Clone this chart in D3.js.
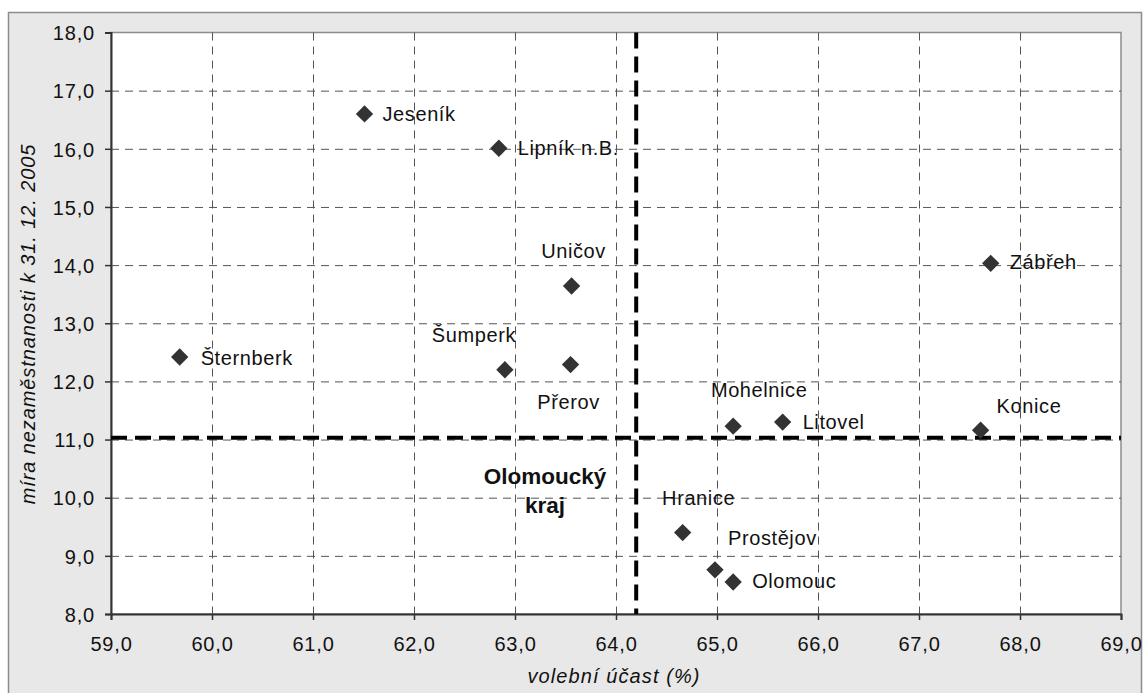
<!DOCTYPE html>
<html><head><meta charset="utf-8">
<script src="https://cdn.jsdelivr.net/npm/d3@7"></script>
<style>body{margin:0;background:#fff}svg{display:block}text{font-family:"Liberation Sans",Arial,sans-serif}</style>
</head><body>
<svg id="c" width="1143" height="693"></svg>
<script>
const districts = ["Jeseník","Lipník n.B.","Uničov","Šumperk","Přerov","Šternberk","Zábřeh","Konice","Mohelnice","Litovel","Hranice","Prostějov","Olomouc"];
const turnout = [61.51,62.84,63.56,62.90,63.55,59.68,67.71,67.61,65.16,65.65,64.66,64.98,65.16];
const unemployment = [16.60,16.01,13.64,12.20,12.29,12.42,14.03,11.16,11.23,11.30,9.40,8.76,8.55];
const regionTurnout = 64.2;
const regionUnemployment = 11.03;
const xTicks = [59,60,61,62,63,64,65,66,67,68,69];
const yTicks = [8,9,10,11,12,13,14,15,16,17,18];
const regionLabel = ["Olomoucký","kraj"];
// label placement (offsets in px relative to point): dx, dy, anchor
const labelPos = {
 "Jeseník":[18,7,"start"],"Lipník n.B.":[19,7,"start"],"Uničov":[2,-28,"middle"],
 "Šumperk":[-31,-28,"middle"],"Přerov":[-2,44,"middle"],"Šternberk":[21,8,"start"],
 "Zábřeh":[19,6,"start"],"Konice":[16,-17,"start"],"Mohelnice":[26,-29,"middle"],
 "Litovel":[20,7,"start"],"Hranice":[16,-28,"middle"],"Prostějov":[13,-25,"start"],
 "Olomouc":[19,6,"start"]};

const svg = d3.select("#c");
svg.append("rect").attr("x",8.5).attr("y",12.5).attr("width",1133).attr("height",700)
  .attr("fill","#e8e8e8").attr("stroke","#8c8c8c").attr("stroke-width",1.5);
const L=111,R=1121,T=32.5,B=614;
const x=d3.scaleLinear().domain([59,69]).range([L,R]);
const y=d3.scaleLinear().domain([8,18]).range([B,T]);
svg.append("rect").attr("x",L).attr("y",T).attr("width",R-L).attr("height",B-T)
  .attr("fill","#fff").attr("stroke","#8c8c8c").attr("stroke-width",1.5);

// grid
const g=svg.append("g");
g.selectAll(".gx").data(xTicks.slice(1,-1)).join("line")
  .attr("x1",d=>x(d)+0.5).attr("x2",d=>x(d)+0.5).attr("y1",T).attr("y2",B)
  .attr("stroke","#555").attr("stroke-width",1).attr("stroke-dasharray","8,6");
g.selectAll(".gy").data(yTicks.slice(1,-1)).join("line")
  .attr("x1",L).attr("x2",R).attr("y1",d=>y(d)+0.5).attr("y2",d=>y(d)+0.5)
  .attr("stroke","#555").attr("stroke-width",1).attr("stroke-dasharray","8,6");

// axes
const fmt=d=>d3.format(".1f")(d).replace(".",",");
const xa=svg.append("g").attr("transform",`translate(0,${B})`)
  .call(d3.axisBottom(x).tickValues(xTicks).tickFormat(fmt).tickSize(6).tickPadding(17));
const ya=svg.append("g").attr("transform",`translate(${L},0)`)
  .call(d3.axisLeft(y).tickValues(yTicks).tickFormat(fmt).tickSize(6).tickPadding(10));
[xa,ya].forEach(a=>{a.select(".domain").attr("stroke","#333").attr("stroke-width",2);
  a.selectAll(".tick line").attr("stroke","#333").attr("stroke-width",1.5);
  a.selectAll("text").attr("font-size",20).attr("letter-spacing",0.8).attr("fill","#111")
   .attr("font-family","Liberation Sans, Arial, sans-serif");});
ya.selectAll("text").attr("dy","0.36em");

// reference lines
svg.append("line").attr("x1",x(regionTurnout)).attr("x2",x(regionTurnout)).attr("y1",T).attr("y2",B)
  .attr("stroke","#000").attr("stroke-width",4).attr("stroke-dasharray","16,8");
svg.append("line").attr("x1",L).attr("x2",R).attr("y1",y(regionUnemployment)).attr("y2",y(regionUnemployment))
  .attr("stroke","#000").attr("stroke-width",4).attr("stroke-dasharray","16,8");

// points
const data=districts.map((d,i)=>({name:d,x:turnout[i],y:unemployment[i]}));
svg.selectAll(".pt").data(data).join("path")
  .attr("d",d3.symbol(d3.symbolSquare,150))
  .attr("transform",d=>`translate(${x(d.x)},${y(d.y)}) rotate(45)`)
  .attr("fill","#333");
svg.selectAll(".lb").data(data).join("text")
  .attr("x",d=>x(d.x)+labelPos[d.name][0]).attr("y",d=>y(d.y)+labelPos[d.name][1])
  .attr("text-anchor",d=>labelPos[d.name][2]).attr("font-size",20).attr("letter-spacing",0.6).attr("fill","#111")
  .text(d=>d.name);

// region label
svg.append("text").attr("x",545).attr("y",484).attr("text-anchor","middle")
  .attr("font-size",22.5).attr("font-weight","bold").attr("fill","#111")
  .selectAll("tspan").data(regionLabel).join("tspan").attr("x",545).attr("dy",(d,i)=>i?29:0).text(d=>d);

// axis titles
svg.append("text").attr("x",614).attr("y",683).attr("text-anchor","middle")
  .attr("font-size",20).attr("letter-spacing",1.1).attr("font-style","italic").attr("fill","#111").text("volební účast (%)");
svg.append("text").attr("transform",`translate(35,324) rotate(-90)`).attr("text-anchor","middle")
  .attr("font-size",20).attr("letter-spacing",0.9).attr("font-style","italic").attr("fill","#111").text("míra nezaměstnanosti k 31. 12. 2005");
</script></body></html>
